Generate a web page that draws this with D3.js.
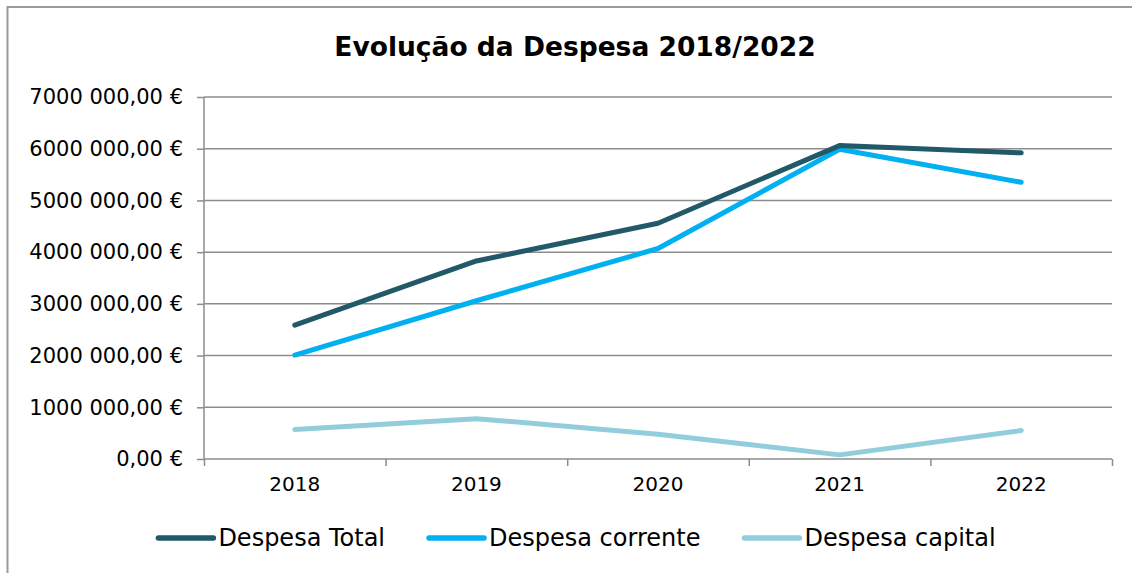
<!DOCTYPE html>
<html>
<head>
<meta charset="utf-8">
<script src="https://cdn.jsdelivr.net/npm/d3@7"></script>
<style>
  body { margin: 0; background: #fff; }
  svg { display: block; font-family: "DejaVu Sans", sans-serif; }
</style>
</head>
<body>
<svg id="chart" width="1132" height="573"></svg>
<script>
const years = ["2018", "2019", "2020", "2021", "2022"];
const despesaTotal = [2590000, 3830000, 4560000, 6060000, 5920000];
const despesaCorrente = [2010000, 3060000, 4070000, 5990000, 5350000];
const despesaCapital = [570000, 780000, 480000, 80000, 550000];
const seriesNames = ["Despesa Total", "Despesa corrente", "Despesa capital"];
const seriesColors = ["#215968", "#00b0f0", "#92cddc"];
const yTicks = [0, 1000000, 2000000, 3000000, 4000000, 5000000, 6000000, 7000000];

const margin = {top: 97, right: 20, bottom: 114, left: 204};
const svg = d3.select('#chart');
const plotW = 1112 - margin.left;
const plotH = 459 - margin.top;

// outer frame (right/bottom edges fall outside the picture)
svg.append('rect')
  .attr('x', 7.5).attr('y', 7)
  .attr('width', 1140).attr('height', 600)
  .attr('fill', 'none')
  .attr('stroke', '#9a9a9a')
  .attr('stroke-width', 2);

svg.append('text')
  .attr('x', 575).attr('y', 56)
  .attr('text-anchor', 'middle')
  .attr('font-size', '26.5px')
  .attr('font-weight', 'bold')
  .attr('fill', '#000')
  .text('Evolução da Despesa 2018/2022');

const g = svg.append('g').attr('transform', `translate(${margin.left},${margin.top})`);

const x = d3.scaleBand().domain(years).range([0, plotW]).padding(0);
const xEdge = d3.scaleLinear().domain([0, years.length]).range([0, plotW]);
const y = d3.scaleLinear().domain([0, 7000000]).range([plotH, 0]);

const fmt = v => {
  const s = d3.format(',.2f')(v).replace(/,/g, ' ').replace('.', ',');
  return s.replace(/^(\d) (\d{3}) /, '$1$2 ') + ' €';
};

// gridlines
g.append('g')
  .selectAll('line')
  .data(yTicks.filter(d => d > 0))
  .join('line')
  .attr('x1', 0).attr('x2', plotW)
  .attr('y1', d => y(d)).attr('y2', d => y(d))
  .attr('stroke', '#8c8c8c')
  .attr('stroke-width', 1.5);

// y axis
const yAxis = g.append('g')
  .call(d3.axisLeft(y).tickValues(yTicks).tickSize(7).tickPadding(14).tickFormat(fmt));
yAxis.selectAll('line, path').attr('stroke', '#8c8c8c').attr('stroke-width', 1.5);
yAxis.select('.domain').attr('d', `M0,0V${plotH}`);
yAxis.selectAll('text')
  .attr('font-family', '"DejaVu Sans", sans-serif')
  .attr('font-size', '21px')
  .attr('fill', '#000');

// x axis boundary ticks
const xTicks = g.append('g')
  .attr('transform', `translate(0,${plotH})`)
  .call(d3.axisBottom(xEdge).ticks(years.length).tickSize(7).tickFormat(''));
xTicks.selectAll('line, path').attr('stroke', '#8c8c8c').attr('stroke-width', 1.5);
xTicks.select('.domain').attr('d', `M0,0H${plotW}`);

// x axis labels
const xAxis = g.append('g')
  .attr('transform', `translate(0,${plotH})`)
  .call(d3.axisBottom(x).tickSize(0).tickPadding(18));
xAxis.select('.domain').remove();
xAxis.selectAll('text')
  .attr('font-family', '"DejaVu Sans", sans-serif')
  .attr('font-size', '20px')
  .attr('fill', '#000');

// lines
const line = d3.line()
  .x((d, i) => x(years[i]) + x.bandwidth() / 2)
  .y(d => y(d));

[despesaCapital, despesaCorrente, despesaTotal].forEach((vals, k) => {
  const idx = 2 - k;
  g.append('path')
    .datum(vals)
    .attr('fill', 'none')
    .attr('stroke', seriesColors[idx])
    .attr('stroke-width', 5)
    .attr('stroke-linejoin', 'round')
    .attr('stroke-linecap', 'round')
    .attr('d', line);
});

// legend
const legend = svg.append('g');
const items = legend.selectAll('g').data(seriesNames).join('g');
items.append('line')
  .attr('x1', 0).attr('x2', 55)
  .attr('y1', 0).attr('y2', 0)
  .attr('stroke', (d, i) => seriesColors[i])
  .attr('stroke-width', 5.5)
  .attr('stroke-linecap', 'round');
items.append('text')
  .attr('x', 60).attr('y', 0)
  .attr('dy', '0.35em')
  .attr('font-size', '24px')
  .attr('fill', '#000')
  .text(d => d);

let offset = 0;
items.each(function() {
  const w = this.querySelector('text').getComputedTextLength() + 60;
  d3.select(this).attr('transform', `translate(${offset},0)`);
  offset += w + 44;
});
const totalW = offset - 44;
legend.attr('transform', `translate(${577 - totalW / 2},538)`);
</script>
</body>
</html>
